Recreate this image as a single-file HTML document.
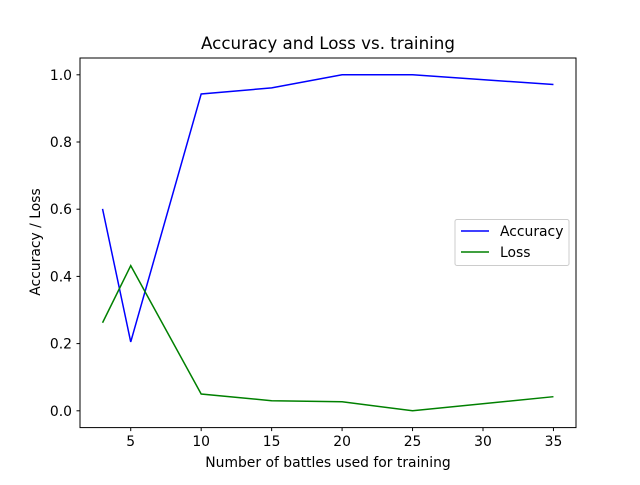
<!DOCTYPE html>
<html><head><meta charset="utf-8"><style>
body{margin:0;background:#fff}
svg{font-family:"DejaVu Sans","Liberation Sans",sans-serif}
</style></head><body>
<svg id="chart" width="640" height="480" xmlns="http://www.w3.org/2000/svg">
<rect width="640" height="480" fill="#fff"/>
<text x="328" y="49" font-size="16.7" text-anchor="middle">Accuracy and Loss vs. training</text>
<text x="328" y="467" font-size="13.9" text-anchor="middle">Number of battles used for training</text>
<text x="40" y="242" font-size="13.9" text-anchor="middle" transform="rotate(-90 40 242)">Accuracy / Loss</text>
<g id="ticks"></g>
<g id="series"></g>
<rect x="80" y="58" width="496" height="369.6" fill="none" stroke="#000" stroke-width="1"/>
<g>
<rect x="455" y="219.5" width="114" height="46" fill="#fff" fill-opacity="0.8" stroke="#ccc" rx="2"/>
<line x1="461" y1="231" x2="489" y2="231" stroke="#0000ff" stroke-width="1.5"/>
<text x="500" y="236" font-size="13.9">Accuracy</text>
<line x1="461" y1="252" x2="489" y2="252" stroke="#008000" stroke-width="1.5"/>
<text x="500" y="257" font-size="13.9">Loss</text>
</g>
</svg>
<script>
const xValues=[3,5,10,15,20,25,35];
const accuracy=[0.601,0.205,0.943,0.961,1.0,1.0,0.971];
const loss=[0.262,0.432,0.050,0.030,0.027,0.0,0.042];
const xTicks=[5,10,15,20,25,30,35];
const yTicks=[0.0,0.2,0.4,0.6,0.8,1.0];
const NS="http://www.w3.org/2000/svg";
const X0=80,W=496,Y0=58,H=369.6,xmin=1.4,xmax=36.6,ymin=-0.05,ymax=1.05;
function sx(v){return X0+(v-xmin)/(xmax-xmin)*W;}
function sy(v){return Y0+(ymax-v)/(ymax-ymin)*H;}
const tg=document.getElementById('ticks');
function mk(t,a,p){const e=document.createElementNS(NS,t);for(const k in a)e.setAttribute(k,a[k]);p.appendChild(e);return e;}
xTicks.forEach(v=>{const x=sx(v);
const l=mk('line',{x1:x,x2:x,y1:427.6,y2:431.1,stroke:'#000'},tg);


const t=mk('text',{x:x,y:446,'font-size':13.9,'text-anchor':'middle'},tg);t.textContent=v;

});
yTicks.forEach(v=>{const y=sy(v);
const l=mk('line',{x1:76.5,x2:80,y1:y,y2:y,stroke:'#000'},tg);


const t=mk('text',{x:72,y:y+5,'font-size':13.9,'text-anchor':'end'},tg);t.textContent=v.toFixed(1);

});
const sg=document.getElementById('series');
function line(vals,color,name){const p=mk('polyline',{points:vals.map((v,i)=>sx(xValues[i])+','+sy(v)).join(' '),fill:'none',stroke:color,'stroke-width':1.5},sg);

}
line(accuracy,'#0000ff','accuracy-line');
line(loss,'#008000','loss-line');
</script>
</body></html>
